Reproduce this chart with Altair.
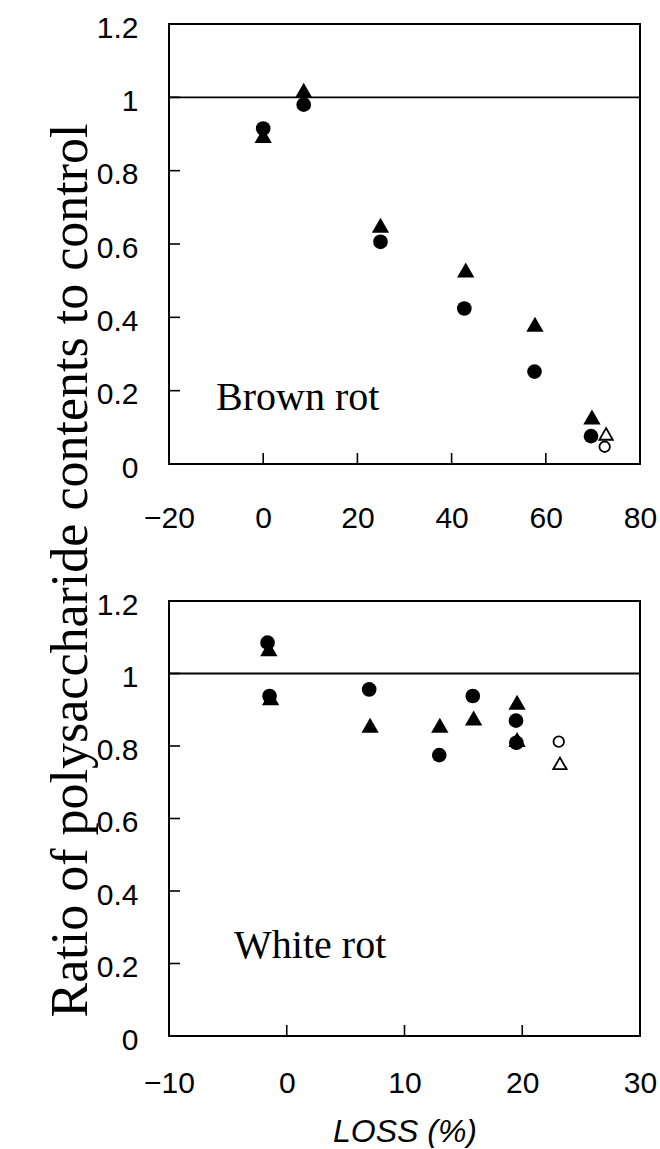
import altair as alt
import pandas as pd

# ---------------- data ----------------
# Brown rot panel
br_circle_x = [0.0, 8.6, 24.9, 42.7, 57.6, 69.6]
br_circle_y = [0.915, 0.980, 0.606, 0.424, 0.252, 0.076]
br_tri_x = [0.0, 8.6, 24.9, 43.0, 57.7, 69.8]
br_tri_y = [0.896, 1.019, 0.651, 0.529, 0.381, 0.128]
br_open_circle_x = [72.5]
br_open_circle_y = [0.047]
br_open_tri_x = [72.8]
br_open_tri_y = [0.082]

# White rot panel
wr_circle_x = [-1.63, -1.46, 7.0, 12.95, 15.8, 19.47, 19.5]
wr_circle_y = [1.085, 0.938, 0.956, 0.775, 0.938, 0.870, 0.809]
wr_tri_x = [-1.52, -1.37, 7.08, 13.0, 15.87, 19.56, 19.56]
wr_tri_y = [1.068, 0.933, 0.857, 0.857, 0.877, 0.921, 0.818]
wr_open_circle_x = [23.1]
wr_open_circle_y = [0.812]
wr_open_tri_x = [23.2]
wr_open_tri_y = [0.752]

y_ticks_labels = [0, 0.2, 0.4, 0.6, 0.8, 1, 1.2]
y_ticks_marks = [0.2, 0.4, 0.6, 0.8, 1.0]
top_x_labels = [-20, 0, 20, 40, 60, 80]
top_x_marks = [0, 20, 40, 60]
bot_x_labels = [-10, 0, 10, 20, 30]
bot_x_marks = [0, 10, 20]

Y_TITLE = "Ratio of polysaccharide contents to control"

W = 471
LABEL_FONT = "Liberation Sans"
SERIF = "Liberation Serif"


def panel(xdom, xlabels, xmarks, H, cx, cy, tx, ty, ox, oy, otx, oty,
          label, lx, ly, xlabpad, xtitle, ytitle):
    xs = alt.Scale(domain=xdom, nice=False, zero=False)
    ys = alt.Scale(domain=[0, 1.2], nice=False, zero=False)

    x_axis_kwargs = dict(values=xlabels, format="d", ticks=False, tickSize=0,
                         domain=False, grid=False, labelFont=LABEL_FONT,
                         labelFontSize=30, labelColor="black",
                         labelPadding=xlabpad, labelFlush=False)
    if xtitle:
        x_axis = alt.Axis(title=xtitle, titleFont=LABEL_FONT, titleFontSize=32,
                          titleFontStyle="italic", titleFontWeight="normal",
                          titleColor="black", titlePadding=18, **x_axis_kwargs)
    else:
        x_axis = alt.Axis(title=None, **x_axis_kwargs)

    y_axis_kwargs = dict(values=y_ticks_labels, format="~g", ticks=False,
                         tickSize=0, domain=False, grid=False,
                         labelFont=LABEL_FONT, labelFontSize=30,
                         labelColor="black", labelPadding=31,
                         labelOffset=4, labelFlush=False)
    if ytitle:
        y_axis = alt.Axis(title=ytitle, titleFont=SERIF, titleFontSize=52,
                          titleFontWeight="normal", titleColor="black",
                          titleAngle=270, titleBaseline="middle",
                          titleAlign="center", titleX=-99, titleY=546,
                          **y_axis_kwargs)
    else:
        y_axis = alt.Axis(title=None, **y_axis_kwargs)

    def X(field):
        return alt.X(field, scale=xs, axis=x_axis)

    def Y(field):
        return alt.Y(field, scale=ys, axis=y_axis)

    ref = alt.Chart(pd.DataFrame({"y": [1.0]})).mark_rule(
        color="black", strokeWidth=1.8
    ).encode(y=Y("y:Q"))

    base_x = alt.Chart(pd.DataFrame({"x": xlabels, "y": [0.0] * len(xlabels)})).mark_point(
        opacity=0
    ).encode(x=X("x:Q"), y=Y("y:Q"))

    xt = alt.Chart(pd.DataFrame({"t": xmarks})).mark_rule(
        color="black", strokeWidth=1.6
    ).encode(x=X("t:Q"), y=alt.value(H), y2=alt.value(H - 11))

    yt = alt.Chart(pd.DataFrame({"t": y_ticks_marks})).mark_rule(
        color="black", strokeWidth=1.6
    ).encode(y=Y("t:Q"), x=alt.value(0), x2=alt.value(11))

    def pts(xv, yv, **mk):
        return alt.Chart(pd.DataFrame({"x": xv, "y": yv})).mark_point(
            opacity=1, **mk
        ).encode(x=X("x:Q"), y=Y("y:Q"))

    tri = pts(tx, ty, shape="triangle-up", filled=True, color="black", size=300)
    cir = pts(cx, cy, shape="circle", filled=True, color="black", size=215)
    otri = pts(otx, oty, shape="triangle-up", filled=True, fill="white",
               stroke="black", strokeWidth=1.8, size=180)
    ocir = pts(ox, oy, shape="circle", filled=True, fill="white",
               stroke="black", strokeWidth=1.8, size=110)

    txt = alt.Chart(pd.DataFrame({"x": [lx], "y": [ly], "t": [label]})).mark_text(
        align="left", baseline="alphabetic", font=SERIF, fontSize=40,
        color="black"
    ).encode(x=X("x:Q"), y=Y("y:Q"), text="t:N")

    return alt.layer(ref, base_x, xt, yt, tri, cir, otri, ocir, txt).properties(
        width=W, height=H
    )


top = panel([-20, 80], top_x_labels, top_x_marks, 440,
            br_circle_x, br_circle_y, br_tri_x, br_tri_y,
            br_open_circle_x, br_open_circle_y, br_open_tri_x, br_open_tri_y,
            "Brown rot", -10.0, 0.147, 39, None, Y_TITLE)

bottom = panel([-10, 30], bot_x_labels, bot_x_marks, 435,
               wr_circle_x, wr_circle_y, wr_tri_x, wr_tri_y,
               wr_open_circle_x, wr_open_circle_y, wr_open_tri_x, wr_open_tri_y,
               "White rot", -4.47, 0.215, 32, "LOSS (%)", None)

chart = alt.vconcat(top, bottom, spacing=137, bounds="flush").properties(
    padding={"left": 42, "top": 12, "right": 0, "bottom": 0},
    background="white",
).configure_view(stroke="black", strokeWidth=2)

chart.save("out.html", embed_options={"renderer": "svg", "actions": False})
